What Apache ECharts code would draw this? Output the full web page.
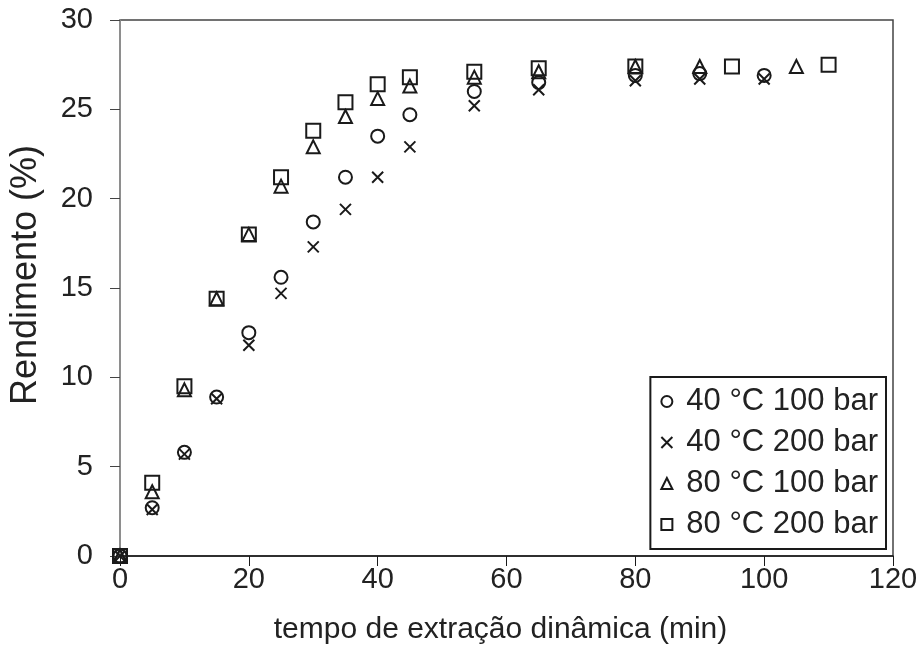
<!DOCTYPE html>
<html>
<head>
<meta charset="utf-8">
<script src="https://cdn.jsdelivr.net/npm/echarts@6/dist/echarts.min.js"></script>
<style>
  html, body { margin: 0; padding: 0; background: #fff; }
  #main { width: 923px; height: 646px; }
</style>
</head>
<body>
<div id="main"></div>
<script>
// tempo (min) para cada serie
var tempo40 = [0, 5, 10, 15, 20, 25, 30, 35, 40, 45, 55, 65, 80, 90, 100];
var tempo80a = [0, 5, 10, 15, 20, 25, 30, 35, 40, 45, 55, 65, 80, 90, 105];
var tempo80b = [0, 5, 10, 15, 20, 25, 30, 35, 40, 45, 55, 65, 80, 95, 110];

// rendimento (%)
var rend40_100 = [0, 2.7, 5.8, 8.9, 12.5, 15.6, 18.7, 21.2, 23.5, 24.7, 26.0, 26.5, 26.9, 27.0, 26.9];
var rend40_200 = [0, 2.6, 5.7, 8.8, 11.8, 14.7, 17.3, 19.4, 21.2, 22.9, 25.2, 26.1, 26.6, 26.7, 26.7];
var rend80_100 = [0, 3.6, 9.3, 14.4, 18.0, 20.7, 22.9, 24.6, 25.6, 26.3, 26.8, 27.1, 27.4, 27.4, 27.4];
var rend80_200 = [0, 4.1, 9.5, 14.4, 18.0, 21.2, 23.8, 25.4, 26.4, 26.8, 27.1, 27.3, 27.4, 27.4, 27.5];

var nomes = ['40 °C 100 bar', '40 °C 200 bar', '80 °C 100 bar', '80 °C 200 bar'];
var xTicks = [0, 20, 40, 60, 80, 100, 120];
var yTicks = [0, 5, 10, 15, 20, 25, 30];

var fonte = '"Liberation Sans", Arial, sans-serif';
var cruz = 'path://M0,0L10,10M10,0L0,10';

function pares(xs, ys) {
  var out = [];
  for (var i = 0; i < xs.length; i++) {
    out.push([xs[i], ys[i]]);
  }
  return out;
}

function serie(nome, xs, ys, simbolo, tam) {
  return {
    name: nome,
    type: 'scatter',
    data: pares(xs, ys),
    symbol: simbolo,
    symbolSize: tam,
    itemStyle: {
      color: 'rgba(0,0,0,0)',
      borderColor: '#1a1a1a',
      borderWidth: 2,
      opacity: 1,
    },
  };
}

var myChart = echarts.init(document.getElementById('main'));

var option = {
  animation: false,
  backgroundColor: '#fff',
  grid: {
    left: 120,
    right: 30,
    top: 20,
    bottom: 90,
    outerBoundsMode: 'none',
    containLabel: false,
    show: true,
    borderColor: '#444',
    borderWidth: 1.5,
  },
  legend: {
    data: nomes,
    orient: 'vertical',
    right: 37,
    bottom: 97,
    itemWidth: 11,
    itemHeight: 11,
    itemGap: 10,
    padding: [9, 8, 9, 10],
    borderColor: '#1a1a1a',
    borderWidth: 2,
    backgroundColor: '#fff',
    textStyle: {
      fontFamily: fonte,
      fontSize: 31,
      color: '#222',
      padding: [0, 0, 0, 9],
    },
  },
  xAxis: {
    type: 'value',
    min: xTicks[0],
    max: xTicks[xTicks.length - 1],
    interval: 20,
    name: 'tempo de extração dinâmica (min)',
    nameLocation: 'middle',
    nameGap: 59,
    nameTextStyle: { fontFamily: fonte, fontSize: 30, color: '#222', padding: [0, 12, 0, 0] },
    axisLine: { lineStyle: { color: '#1a1a1a', width: 1.5 } },
    axisTick: { show: true, length: 10, lineStyle: { color: '#1a1a1a' } },
    axisLabel: { fontFamily: fonte, fontSize: 29, color: '#222', margin: 9 },
    splitLine: { show: false },
  },
  yAxis: {
    type: 'value',
    min: yTicks[0],
    max: yTicks[yTicks.length - 1],
    interval: 5,
    name: 'Rendimento (%)',
    nameLocation: 'middle',
    nameGap: 76,
    nameRotate: 90,
    nameTextStyle: { fontFamily: fonte, fontSize: 36, color: '#222', padding: [0, 0, 0, 26] },
    axisLine: { show: true, lineStyle: { color: '#999', width: 1.5 } },
    axisTick: { show: true, length: 10, lineStyle: { color: '#444' } },
    axisLabel: { fontFamily: fonte, fontSize: 29, color: '#222', margin: 27 },
    splitLine: { show: false },
  },
  series: [
    serie(nomes[0], tempo40, rend40_100, 'circle', 13),
    serie(nomes[1], tempo40, rend40_200, cruz, 11),
    serie(nomes[2], tempo80a, rend80_100, 'triangle', 13),
    serie(nomes[3], tempo80b, rend80_200, 'rect', 14),
  ],
};

myChart.setOption(option);
</script>
</body>
</html>
